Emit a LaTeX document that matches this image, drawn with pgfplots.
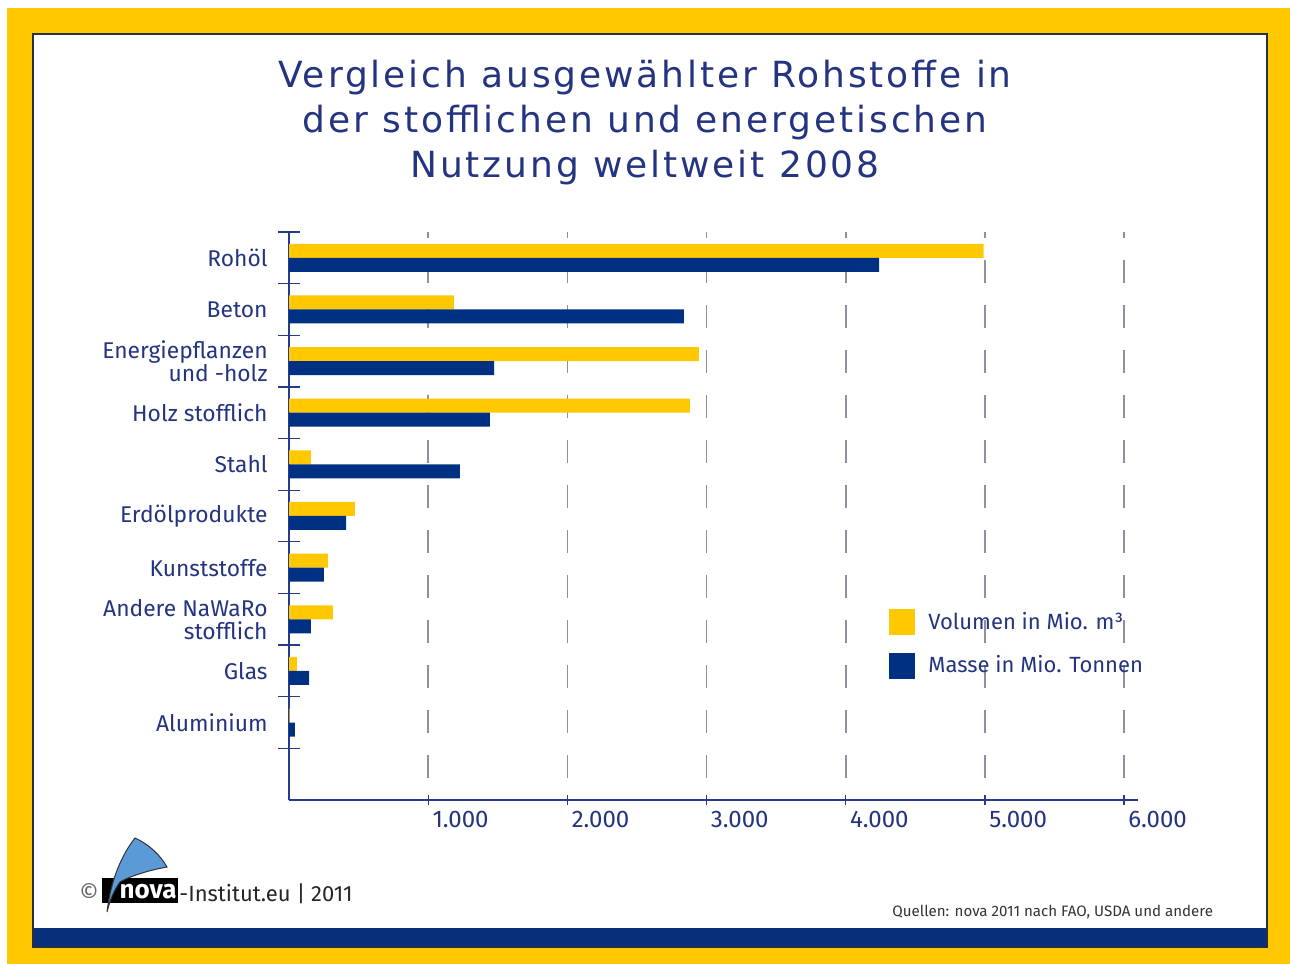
\documentclass[border=0pt]{standalone}
\usepackage{fontspec}
\setmainfont{Fira Sans}
\newfontfamily\titlefont[LetterSpace=8]{DejaVu Sans}
\usepackage{pgfplots}
\pgfplotsset{compat=1.18}

\definecolor{nyellow}{RGB}{255,200,0}
\definecolor{nblue}{RGB}{0,48,130}
\definecolor{navytxt}{RGB}{36,52,128}
\definecolor{axisblue}{RGB}{40,58,140}
\definecolor{gridgray}{RGB}{140,144,160}
\definecolor{bandblue}{RGB}{8,48,122}
\definecolor{panelline}{RGB}{40,48,70}
\definecolor{logoblue}{RGB}{90,155,215}

\begin{document}
\begin{tikzpicture}
%% frame, panel and title (pixel coordinates, y downwards)
\begin{scope}[x=0.5pt,y=-0.5pt,shift={(0pt,482pt)}]
  \fill[white] (0,0) rectangle (1290,964);
  \fill[nyellow] (7,8) rectangle (1290,964);
  \fill[white] (33,34) rectangle (1267,947);
  \fill[bandblue] (33,928) rectangle (1267,947);
  \draw[panelline, line width=0.8pt] (33,34) rectangle (1267,947);
  \node[anchor=base, text=navytxt, font=\titlefont\fontsize{18}{22}\selectfont] at (645,88) {Vergleich ausgewählter Rohstoffe in};
  \node[anchor=base, text=navytxt, font=\titlefont\fontsize{18}{22}\selectfont] at (645,133) {der stofflichen und energetischen};
  \node[anchor=base, text=navytxt, font=\titlefont\fontsize{18}{22}\selectfont] at (645,178) {Nutzung weltweit 2008};
\end{scope}

\begin{axis}[
  at={(144.5pt,82pt)}, anchor=south west,
  scale only axis,
  width=424.5pt, height=284pt,
  xmin=0, xmax=6100,
  ymin=-10.5, ymax=0.5,
  axis lines*=left,
  axis line style={axisblue, line width=1pt},
  xtick={1000,2000,3000,4000,5000,6000},
  xticklabels={1.000,2.000,3.000,4.000,5.000,6.000},
  ytick={0,-1,...,-9},
  yticklabels={Rohöl,Beton,{Energiepflanzen\\und -holz},Holz stofflich,Stahl,Erdölprodukte,Kunststoffe,{Andere NaWaRo\\stofflich},Glas,Aluminium},
  minor ytick={0.5,-0.5,...,-9.5},
  tick align=center,
  major tick length=5pt,
  minor tick length=11pt,
  every major y tick/.append style={draw=none},
  every minor y tick/.append style={axisblue, line width=0.6pt},
  every major x tick/.append style={axisblue, line width=0.6pt},
  xmajorgrids,
  x grid style={gridgray, line width=0.8pt, dash pattern=on 11.5pt off 11pt, dash phase=11.5pt},
  ticklabel style={text=navytxt, inner sep=0pt},
  yticklabel style={align=right, xshift=-8pt, font=\fontsize{11.4}{11.5}\selectfont},
  xticklabel style={anchor=north west, xshift=2pt, yshift=-3pt, font=\fontsize{12}{12}\selectfont},
  legend style={draw=none, fill=none, at={(0.7067,0.338)}, anchor=north west,
                inner sep=0pt, row sep=7.5pt, font=\fontsize{11}{11.5}\selectfont,
                text=navytxt, /tikz/every odd column/.append style={column sep=4.5pt}},
  legend cell align=left,
  legend image code/.code={\fill[#1] (0pt,-6.5pt) rectangle (13pt,6.5pt);},
  clip=false,
]
%% Volumen in Mio. m3
\addplot[xbar, bar width=7pt, bar shift=3.5pt, fill=nyellow, draw=none]
  coordinates {(4990,0) (1185,-1) (2945,-2) (2880,-3) (158,-4)
               (474,-5) (280,-6) (316,-7) (57,-8) (5,-9)};
\addlegendentry{Volumen in Mio. m³}
%% Masse in Mio. Tonnen
\addplot[xbar, bar width=7pt, bar shift=-3.5pt, fill=nblue, draw=none]
  coordinates {(4240,0) (2838,-1) (1473,-2) (1444,-3) (1228,-4)
               (410,-5) (251,-6) (158,-7) (144,-8) (43,-9)};
\addlegendentry{Masse in Mio. Tonnen}
\end{axis}

%% logo and source line
\begin{scope}[x=0.5pt,y=-0.5pt,shift={(0pt,482pt)}]
  \fill[black] (102,878) rectangle (178,903);
  \node[anchor=base, text=white, font=\bfseries\fontsize{13}{13}\selectfont] at (148,898) {nova};
  \filldraw[fill=logoblue, draw=black!80, line width=0.5pt]
    (107,912) .. controls (111,880) and (121,856) .. (135,838)
    .. controls (150,845) and (160,855) .. (167,867)
    .. controls (150,870) and (130,876) .. (120,882)
    .. controls (114,890) and (110,900) .. (107,912) -- cycle;
  \node[anchor=base, text=black!60, font=\fontsize{12}{12}\selectfont] at (89,901) {©};
  \node[anchor=base west, inner sep=0pt, text=black!85, font=\fontsize{11}{12}\selectfont] at (179,901) {-Institut.eu | 2011};
  \node[anchor=base west, inner sep=0pt, text=black!80, font=\fontsize{7.55}{8}\selectfont] at (892,916) {Quellen: nova 2011 nach FAO, USDA und andere};
\end{scope}
\end{tikzpicture}
\end{document}
